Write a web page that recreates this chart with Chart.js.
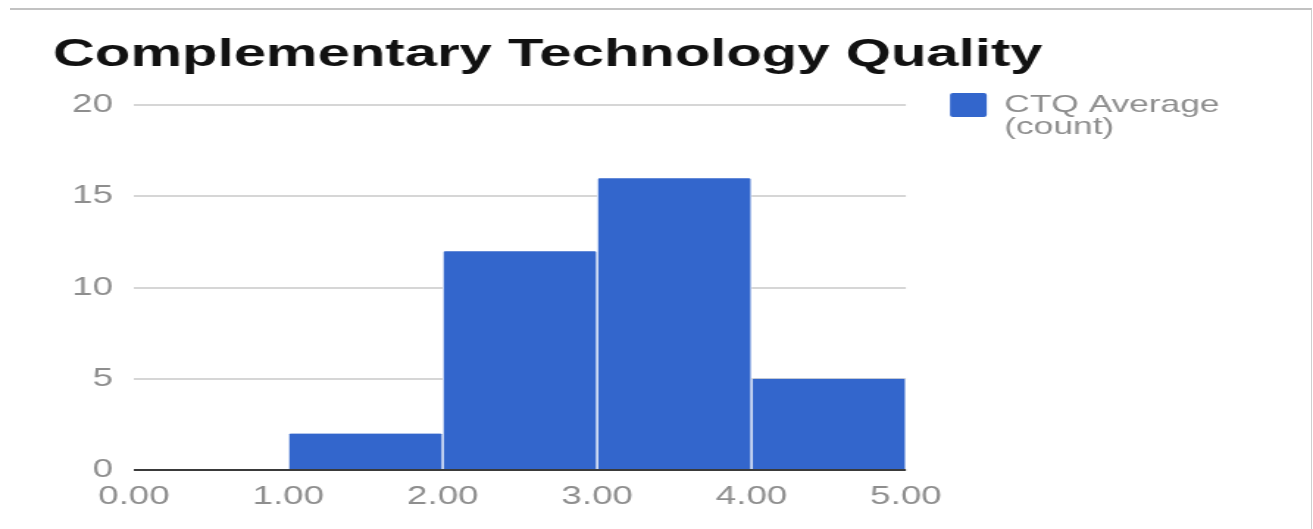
<!DOCTYPE html>
<html>
<head>
<meta charset="utf-8">
<script src="https://cdn.jsdelivr.net/npm/chart.js@4.4.1/dist/chart.umd.min.js"></script>
<style>
  body { margin: 0; background: #fff; }
  #page { position: relative; width: 1313px; height: 529px; overflow: hidden; }
  #frame {
    position: absolute; left: 10px; top: 8px; right: 1px; bottom: -2px;
    border-top: 2px solid #c2c2c2; border-right: 1px solid #cfcfcf;
  }
  /* the reference is stretched sideways, so the chart is drawn narrow and widened */
  #wrap {
    position: absolute; left: 0; top: 0; width: 893px; height: 529px;
    transform: scaleX(1.4703); transform-origin: 0 0;
  }
</style>
</head>
<body>
<div id="page">
  <div id="frame"></div>
  <div id="wrap"><canvas id="ctq"></canvas></div>
</div>
<script>
// histogram data
const binEdges = [0, 1, 2, 3, 4, 5];
const counts = [0, 2, 12, 16, 5];
const xTickLabels = ["0.00", "1.00", "2.00", "3.00", "4.00", "5.00"];
const yTickLabels = ["0", "5", "10", "15", "20"];
const legendLines = ["CTQ Average", "(count)"];
const chartTitle = "Complementary Technology Quality";

const barBlue = "#3366cc";
const labelGray = "#8e8e8e";
const fontFamily = "'Liberation Sans', Arial, sans-serif";

// one bar per bin, placed at the middle of its bin
const bars = [];
for (let i = 0; i < counts.length; i++) {
  bars.push({ x: (binEdges[i] + binEdges[i + 1]) / 2, y: counts[i] });
}

new Chart("ctq", {
  type: "bar",
  data: {
    datasets: [
      {
        label: legendLines.join(" "),
        data: bars,
        backgroundColor: barBlue,
        borderColor: "#ffffff",
        borderWidth: { left: 1, right: 1, top: 0, bottom: 0 },
        borderRadius: { topLeft: 2, topRight: 2, bottomLeft: 0, bottomRight: 0 },
        barPercentage: 1,
        categoryPercentage: 1,
      },
    ],
  },
  options: {
    responsive: true,
    maintainAspectRatio: false,
    animation: false,
    layout: { padding: { top: 0, left: 36, right: 53.6, bottom: 5 } },
    plugins: {
      tooltip: { enabled: false },
      title: {
        display: true,
        text: chartTitle,
        align: "start",
        color: "#111111",
        font: { family: fontFamily, size: 39.5, weight: "bold", lineHeight: 1.2 },
        padding: { top: 31.6, bottom: 26.3 },
      },
      legend: {
        display: true,
        position: "right",
        align: "start",
        maxWidth: 400,
        title: {
          display: true,
          text: "",
          font: { size: 10, lineHeight: 1 },
          padding: { top: 53, bottom: 0 },
        },
        labels: {
          boxWidth: 25,
          boxHeight: 24,
          padding: 30,
          color: labelGray,
          useBorderRadius: true,
          borderRadius: 2,
          font: { family: fontFamily, size: 24, lineHeight: 0.92 },
          generateLabels: function (chart) {
            return Chart.defaults.plugins.legend.labels
              .generateLabels(chart)
              .map(function (item) {
                item.text = legendLines;
                item.lineWidth = 0;
                item.strokeStyle = "rgba(0,0,0,0)";
                item.fillStyle = barBlue;
                return item;
              });
          },
        },
      },
    },
    scales: {
      x: {
        type: "linear",
        min: binEdges[0],
        max: binEdges[binEdges.length - 1],
        offset: false,
        grid: { display: false, drawTicks: false },
        border: { display: false },
        ticks: {
          stepSize: 1,
          padding: 12,
          color: labelGray,
          font: { family: fontFamily, size: 25 },
          maxRotation: 0,
          callback: function (value, index) {
            return xTickLabels[index];
          },
        },
      },
      y: {
        min: 0,
        max: 20,
        grid: {
          drawTicks: false,
          lineWidth: 2,
          color: function (ctx) {
            return ctx.tick && ctx.tick.value === 0 ? "#3a3a3a" : "#d6d6d6";
          },
        },
        border: { display: false },
        ticks: {
          stepSize: 5,
          padding: 14.2,
          color: labelGray,
          font: { family: fontFamily, size: 25 },
          callback: function (value, index) {
            return yTickLabels[index];
          },
        },
        afterFit: function (scale) {
          scale.width = 55.1;
        },
      },
    },
  },
});
</script>
</body>
</html>
